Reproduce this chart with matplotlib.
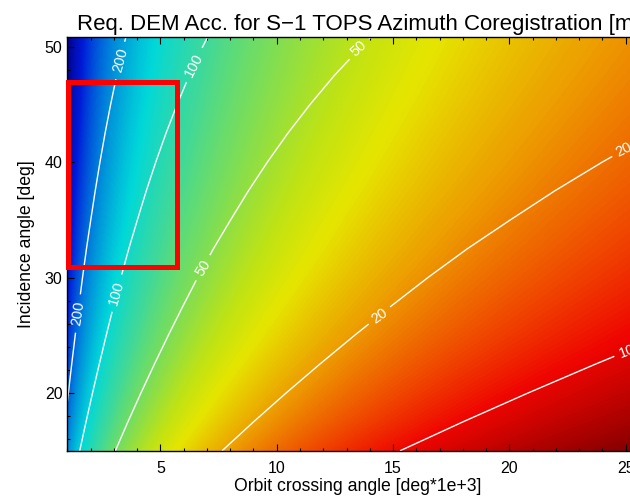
import numpy as np
import matplotlib
matplotlib.use('Agg')
import matplotlib.pyplot as plt
from matplotlib.colors import LogNorm, LinearSegmentedColormap
from matplotlib.patches import Rectangle

plt.rcParams['font.family'] = ['Liberation Sans', 'DejaVu Sans']

# incidence angle rows [deg]
incidence = [15.0, 17.5, 20.0, 22.5, 25.0, 27.5, 30.0, 32.5, 35.0,
             37.5, 40.0, 42.5, 45.0, 47.5, 50.0, 52.5]
# DEM accuracy at crossing angle 1e-3 deg [m], read off the contour crossings
# (accuracy scales as 1/crossing angle)
acc_at_one = [153, 180, 208, 237, 267, 298, 330, 364, 401,
              439, 480, 524, 572, 624, 682, 745]
# value behind the colour image at crossing angle 1e-3 deg
shade_at_one = [153, 178, 202, 226, 250, 273, 296, 318, 339,
                360, 380, 399, 418, 436, 453, 469]
shade_range = (5.9, 458)

# orbit crossing angle range [deg*1e+3]
cross_min, cross_max = 1.0, 26.0

contour_levels = [10, 20, 50, 100, 200]
label_spots = [(3.26, 48.8), (1.40, 26.9), (6.36, 48.5), (3.05, 28.7),
               (13.5, 49.9), (6.79, 30.9), (14.35, 26.9), (24.9, 41.2),
               (25.0, 23.9)]

# operational S-1 IW region (red box)
box_cross = (1.03, 5.70)
box_inc = (30.9, 46.9)

# IDL-like blue-red table (high values -> blue)
idl_colors = [(0.00, (0.00, 0.00, 0.51)),
              (0.12, (0.00, 0.10, 0.85)),
              (0.24, (0.00, 0.50, 0.86)),
              (0.36, (0.00, 0.85, 0.85)),
              (0.45, (0.25, 0.85, 0.60)),
              (0.53, (0.50, 0.87, 0.33)),
              (0.60, (0.75, 0.89, 0.08)),
              (0.65, (0.90, 0.90, 0.00)),
              (0.73, (0.93, 0.62, 0.00)),
              (0.81, (0.94, 0.30, 0.00)),
              (0.88, (0.94, 0.02, 0.00)),
              (1.00, (0.50, 0.00, 0.00))]
cmap = LinearSegmentedColormap.from_list('idl_br', idl_colors).reversed()

# --- build the fields ---
cross = np.linspace(cross_min, cross_max, 500)
inc = np.array(incidence)
acc = np.outer(np.array(acc_at_one, dtype=float), 1.0 / cross)
shade = np.outer(np.array(shade_at_one, dtype=float), 1.0 / cross)

fig = plt.figure(figsize=(6.3, 4.97), dpi=100)
ax = fig.add_axes([0.107, 0.093, 0.923, 0.832])

dx = cross[1] - cross[0]
dy = inc[1] - inc[0]
ax.imshow(shade, cmap=cmap, origin='lower', aspect='auto',
          extent=[cross[0] - dx / 2, cross[-1] + dx / 2,
                  inc[0] - dy / 2, inc[-1] + dy / 2],
          interpolation='bilinear', interpolation_stage='data',
          norm=LogNorm(vmin=shade_range[0], vmax=shade_range[1]))

cs = ax.contour(cross, inc, acc, levels=contour_levels, colors='white',
                linewidths=1.0)
ax.clabel(cs, manual=label_spots, inline=True, fmt='%d', fontsize=10.5,
          colors='white')

ax.add_patch(Rectangle((box_cross[0], box_inc[0]),
                       box_cross[1] - box_cross[0], box_inc[1] - box_inc[0],
                       fill=False, edgecolor='#ff0000', linewidth=3.6,
                       clip_on=False, zorder=5))

ax.set_xlim(cross_min, cross_max)
ax.set_ylim(15, 50.8)
ax.set_xticks([5, 10, 15, 20, 25])
ax.set_xticks(np.arange(1, 27, 1), minor=True)
ax.set_yticks([20, 30, 40, 50])
ax.set_yticks(np.arange(16, 51, 2), minor=True)
ax.tick_params(which='both', direction='in', top=True, right=True,
               colors='black', labelsize=11.5)
ax.tick_params(which='major', length=5, width=0.8)
ax.tick_params(which='minor', length=2.5, width=0.8)
ax.tick_params(axis='x', pad=7)
ax.tick_params(axis='y', pad=3.5)
for s in ax.spines.values():
    s.set_linewidth(1.0)

ax.set_xlabel('Orbit crossing angle [deg*1e+3]', fontsize=12.7, labelpad=2)
ax.set_ylabel('Incidence angle [deg]', fontsize=12.7, labelpad=7)
ax.set_title('Req. DEM Acc. for S\u22121 TOPS Azimuth Coregistration [m]',
             fontsize=16, pad=5)

fig.savefig('out.png', dpi=100)
